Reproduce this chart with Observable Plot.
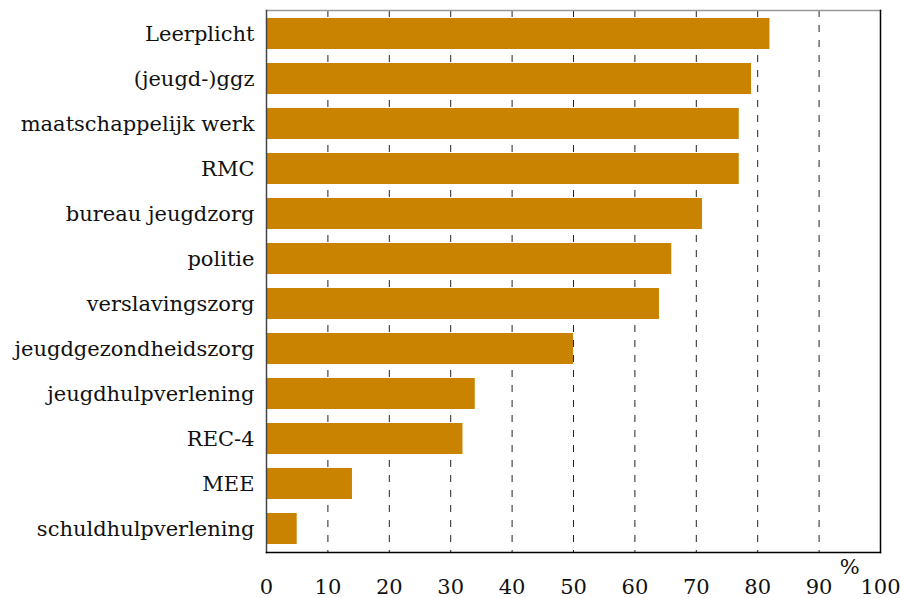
<!DOCTYPE html>
<html>
<head>
<meta charset="utf-8">
<script src="https://cdn.jsdelivr.net/npm/d3@7"></script>
<script src="https://cdn.jsdelivr.net/npm/@observablehq/plot@0.6"></script>
<style>
  html, body { margin: 0; padding: 0; background: #fff; }
  #chart { width: 902px; height: 598px; }
  #chart svg { overflow: visible; }
</style>
</head>
<body>
<div id="chart"></div>
<script>
const categories = [
  "Leerplicht", "(jeugd-)ggz", "maatschappelijk werk", "RMC", "bureau jeugdzorg",
  "politie", "verslavingszorg", "jeugdgezondheidszorg", "jeugdhulpverlening",
  "REC-4", "MEE", "schuldhulpverlening"
];
const values = [82, 79, 77, 77, 71, 66, 64, 50, 34, 32, 14, 5];
const xTicks = [0, 10, 20, 30, 40, 50, 60, 70, 80, 90, 100];
const gridTicks = [10, 20, 30, 40, 50, 60, 70, 80, 90];
const unitLabel = "%";

const data = categories.map((c, i) => ({category: c, value: values[i]}));

const chart = Plot.plot({
  width: 902,
  height: 598,
  marginLeft: 266,
  marginRight: 22,
  marginTop: 10,
  marginBottom: 46,
  style: {fontFamily: "'DejaVu Serif', serif", fontSize: "21px", color: "#111", background: "#fff", overflow: "visible"},
  x: {domain: [0, 100], ticks: xTicks, tickSize: 0, tickPadding: 27, label: null},
  y: {domain: categories, paddingInner: 0.31, paddingOuter: 0.155, tickSize: 0, tickPadding: 12, label: null},
  marks: [
    Plot.ruleX(gridTicks, {stroke: "#222", strokeWidth: 1, strokeDasharray: "7,8"}),
    Plot.barX(data, {x: "value", y: "category", fill: "#c98300"}),
    Plot.frame({anchor: "top", stroke: "#999", strokeWidth: 1.5}),
    Plot.frame({anchor: "left", stroke: "#444", strokeWidth: 1.5}),
    Plot.frame({anchor: "right", stroke: "#000", strokeWidth: 1.5}),
    Plot.frame({anchor: "bottom", stroke: "#000", strokeWidth: 1.5}),
    Plot.text([unitLabel], {x: () => 95, frameAnchor: "bottom", dy: 21, text: d => d, fontSize: 21, fill: "#111"})
  ]
});
document.getElementById("chart").appendChild(chart);
</script>
</body>
</html>
